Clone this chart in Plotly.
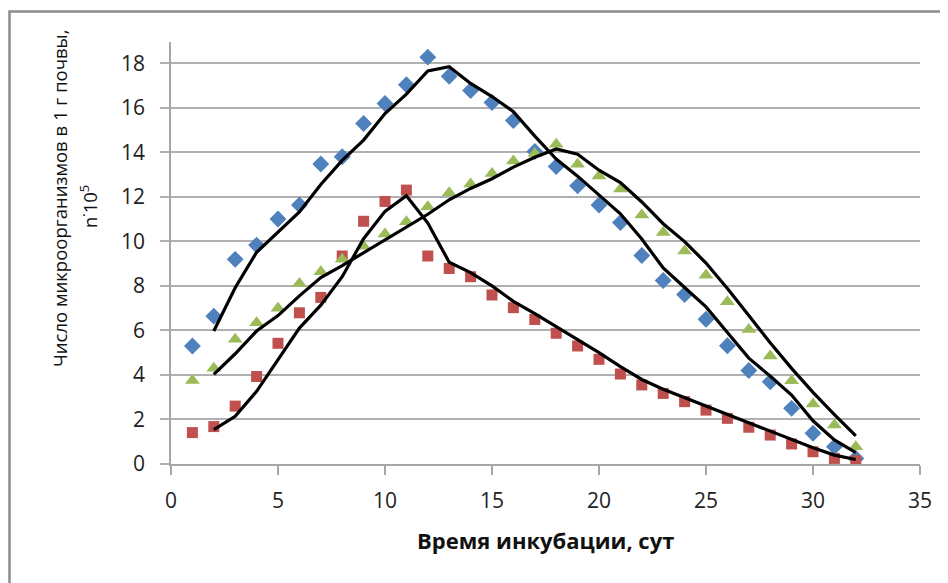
import plotly.graph_objects as go
import pandas as pd

days = list(range(1, 33))

series_blue = [5.30, 6.64, 9.19, 9.83, 11.0, 11.63, 13.47, 13.80, 15.29, 16.19, 17.03, 18.27,
               17.41, 16.77, 16.23, 15.42, 14.03, 13.36, 12.49, 11.63, 10.84, 9.36, 8.24, 7.61,
               6.50, 5.31, 4.20, 3.69, 2.50, 1.38, 0.78, 0.25]
series_red = [1.41, 1.68, 2.60, 3.93, 5.42, 6.79, 7.48, 9.34, 10.90, 11.79, 12.30, 9.34,
              8.78, 8.41, 7.59, 7.02, 6.49, 5.87, 5.30, 4.70, 4.04, 3.55, 3.17, 2.80,
              2.42, 2.05, 1.65, 1.30, 0.90, 0.55, 0.25, 0.15]
series_green = [3.75, 4.30, 5.60, 6.34, 6.99, 8.11, 8.63, 9.19, 9.78, 10.33, 10.88, 11.55,
                12.18, 12.57, 13.05, 13.61, 13.94, 14.36, 13.46, 12.93, 12.35, 11.18, 10.40, 9.57,
                8.48, 7.29, 6.04, 4.85, 3.74, 2.69, 1.75, 0.78]

x_ticks = [0, 5, 10, 15, 20, 25, 30, 35]
y_ticks = [0, 2, 4, 6, 8, 10, 12, 14, 16, 18]

x_title = "Время инкубации, сут"
y_title_1 = "Число микроорганизмов в 1 г почвы,"
y_title_2 = "n˙10<sup>5</sup>"

FONT = "Open Sans"
colors = {"blue": "#4F81BD", "red": "#C0504D", "green": "#9BBB59"}

fig = go.Figure()

fig.add_trace(go.Scatter(x=days, y=series_blue, mode="markers", name="blue",
                         marker=dict(symbol="diamond", size=13, color=colors["blue"], line=dict(width=0))))
fig.add_trace(go.Scatter(x=days, y=series_red, mode="markers", name="red",
                         marker=dict(symbol="square", size=11, color=colors["red"], line=dict(width=0))))
fig.add_trace(go.Scatter(x=days, y=series_green, mode="markers", name="green",
                         marker=dict(symbol="triangle-up", size=13, color=colors["green"], line=dict(width=0))))

# 2-period moving average trendlines (as in the original spreadsheet chart)
for vals in (series_blue, series_red, series_green):
    ma = pd.Series(vals, index=days).rolling(2).mean().dropna()
    fig.add_trace(go.Scatter(x=list(ma.index), y=list(ma.values), mode="lines",
                             line=dict(color="black", width=3.2), showlegend=False))

# page has an 8px body margin: figure occupies page pixels 8..948, 8..583
OFF = 8
W, H = 940, 575
L, R, T = 163, 28, 34
B = H - 456
pw, ph = W - L - R, H - T - B

def px_x(p):  # page pixel -> paper x
    return (p - OFF - L) / pw

def px_y(p):  # page pixel -> paper y
    return (H - B - (p - OFF)) / ph

fig.update_layout(
    width=W, height=H,
    margin=dict(l=L, r=R, t=T, b=B, pad=0),
    paper_bgcolor="white", plot_bgcolor="white",
    showlegend=False,
    font=dict(family=FONT, size=21, color="#222222"),
    xaxis=dict(range=[0, 35], tickvals=x_ticks, ticktext=[str(v) for v in x_ticks],
               showgrid=False, zeroline=False, showline=True, linecolor="#A6A6A6", linewidth=1.5,
               ticks="outside", ticklen=9, tickcolor="#A6A6A6", tickwidth=1.5,
               ticklabelstandoff=8, tickfont=dict(size=21, family=FONT, color="#222222")),
    yaxis=dict(range=[0, 18.95], tickvals=y_ticks, ticktext=[str(v) for v in y_ticks],
               showgrid=True, gridcolor="#B0B0B0", gridwidth=1.6, zeroline=False,
               showline=True, linecolor="#A6A6A6", linewidth=1.5,
               ticks="outside", ticklen=9, tickcolor="#B0B0B0", tickwidth=1.5,
               ticklabelstandoff=11, tickfont=dict(size=21, family=FONT, color="#222222")),
    annotations=[
        dict(text=x_title, xref="paper", yref="paper", x=0.5, y=px_y(540),
             xanchor="center", yanchor="middle", showarrow=False,
             font=dict(family=FONT, size=22, color="#111111", weight="bold")),
        dict(text=y_title_1, xref="paper", yref="paper", x=px_x(59), y=px_y(198),
             xanchor="center", yanchor="middle", showarrow=False, textangle=-90,
             font=dict(family=FONT, size=18.5, color="#111111")),
        dict(text=y_title_2, xref="paper", yref="paper", x=px_x(88), y=px_y(207),
             xanchor="center", yanchor="middle", showarrow=False, textangle=-90,
             font=dict(family=FONT, size=18.5, color="#111111")),
    ],
    shapes=[
        dict(type="rect", xref="paper", yref="paper",
             x0=px_x(9.5), x1=px_x(965), y0=px_y(600), y1=px_y(11.5),
             line=dict(color="#8C8C8C", width=2.5), fillcolor="rgba(0,0,0,0)", layer="below"),
    ],
)

fig.write_html("out.html")
